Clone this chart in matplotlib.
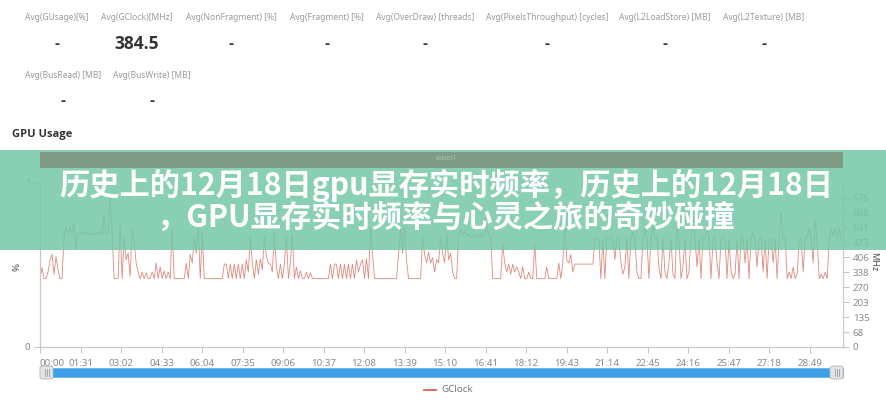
import matplotlib
matplotlib.use('Agg')
import matplotlib.pyplot as plt
from matplotlib.patches import Rectangle, FancyBboxPatch
from matplotlib.lines import Line2D
import numpy as np

W, H = 886, 400
plt.rcParams['font.family'] = ['Noto Sans', 'DejaVu Sans']

# ---------------- data ----------------
stat_labels_1 = ['Avg(GUsage)[%]', 'Avg(GClock)[MHz]', 'Avg(NonFragment) [%]', 'Avg(Fragment) [%]',
                 'Avg(OverDraw) [threads]', 'Avg(PixelsThroughput) [cycles]', 'Avg(L2LoadStore) [MB]',
                 'Avg(L2Texture) [MB]']
stat_values_1 = ['-', '384.5', '-', '-', '-', '-', '-', '-']
stat_labels_2 = ['Avg(BusRead) [MB]', 'Avg(BusWrite) [MB]']
stat_values_2 = ['-', '-']

section_title = 'GPU Usage'
band_label = 'label1'
legend_label = 'GClock'
time_labels = ['00:00', '01:31', '03:02', '04:33', '06:04', '07:35', '09:06', '10:37', '12:08', '13:39',
               '15:10', '16:41', '18:12', '19:43', '21:14', '22:45', '24:16', '25:47', '27:18', '28:49']
mhz_ticks = [0, 68, 135, 203, 270, 338, 406, 473, 541, 608, 676]
usage_ticks = [0, 1]
sample_interval = 4.5  # seconds

gclock = [
    310, 360, 310, 310, 340, 395, 420, 330, 410, 350, 310, 310, 500, 550, 515, 540, 515, 565, 440, 515,
    515, 510, 520, 515, 515, 510, 520, 505, 520, 510, 525, 510, 600, 515, 520, 680, 515, 310, 310, 310,
    560, 310, 500, 395, 426, 320, 540, 480, 381, 340, 310, 340, 310, 336, 310, 310, 340, 310, 381, 310,
    363, 310, 345, 310, 340, 310, 540, 310, 310, 310, 310, 310, 310, 381, 310, 420, 381, 500, 426, 540,
    310, 520, 310, 310, 310, 310, 310, 310, 310, 310, 310, 310, 376, 376, 310, 376, 310, 376, 310, 376,
    310, 376, 310, 395, 340, 500, 381, 310, 395, 330, 400, 350, 500, 410, 381, 376, 340, 520, 363, 310,
    376, 310, 376, 500, 310, 381, 510, 310, 363, 310, 345, 310, 310, 340, 310, 336, 310, 310, 310, 310,
    310, 310, 310, 310, 310, 376, 310, 376, 376, 310, 376, 310, 376, 310, 376, 310, 376, 310, 395, 340,
    376, 395, 310, 400, 310, 540, 426, 310, 310, 310, 310, 310, 310, 310, 310, 310, 310, 310, 310, 420,
    540, 426, 540, 395, 310, 310, 310, 310, 310, 310, 310, 500, 420, 381, 430, 381, 405, 340, 395, 381,
    500, 426, 381, 510, 395, 426, 340, 310, 310, 510, 535, 505, 525, 500, 510, 495, 510, 495, 510, 495,
    510, 500, 510, 560, 505, 500, 310, 310, 310, 310, 310, 470, 381, 340, 376, 330, 376, 340, 363, 340,
    310, 363, 310, 310, 340, 310, 310, 470, 310, 310, 310, 310, 310, 363, 310, 310, 310, 310, 310, 381,
    310, 381, 560, 395, 381, 420, 340, 376, 376, 376, 376, 376, 376, 376, 376, 376, 376, 490, 495, 490,
    310, 490, 310, 495, 490, 500, 490, 395, 490, 500, 381, 330, 363, 490, 310, 495, 520, 490, 340, 310,
    310, 490, 540, 490, 310, 490, 560, 490, 500, 360, 310, 490, 340, 310, 381, 490, 330, 310, 560, 490,
    310, 363, 490, 310, 340, 500, 590, 490, 363, 490, 310, 495, 490, 560, 490, 310, 490, 500, 381, 310,
    490, 500, 490, 310, 490, 340, 310, 330, 490, 310, 500, 490, 381, 490, 310, 490, 520, 490, 363, 490,
    500, 340, 490, 310, 490, 495, 381, 490, 310, 490, 610, 490, 500, 310, 340, 310, 363, 310, 330, 490,
    490, 340, 490, 500, 540, 490, 381, 576, 490, 310, 330, 310, 340, 310, 490, 540, 500, 540, 490, 540,
    490,
]

title_lines = ['历史上的12月18日gpu显存实时频率，历史上的12月18日',
               '，GPU显存实时频率与心灵之旅的奇妙碰撞']

# ---------------- helpers ----------------
def fx(x):
    return x / W

def fy(y):
    return 1 - y / H

def to_sec(s):
    m, sec = s.split(':')
    return int(m) * 60 + int(sec)

fig = plt.figure(figsize=(W / 100, H / 100), dpi=100)
fig.patch.set_facecolor('white')

bold_family = ['Open Sans', 'DejaVu Sans']

# ---------------- header stats ----------------
label_color = '#9a9a9a'
value_color = '#333333'
row1_x = [25, 101, 186, 290, 376, 486, 619, 723]
row2_x = [25, 113]
fig.canvas.draw()
renderer = fig.canvas.get_renderer()

def stat_row(labels, values, xs, y_label, y_value):
    for lab, val, x in zip(labels, values, xs):
        t = fig.text(fx(x), fy(y_label), lab, fontsize=6.1, color=label_color, ha='left', va='center')
        bb = t.get_window_extent(renderer)
        cx = (bb.x0 + bb.x1) / 2 / W
        if val == '-':
            fig.text(cx, fy(y_value), val, fontsize=11, fontweight='bold', family=bold_family,
                     color=value_color, ha='center', va='center')
        else:
            fig.text(cx, fy(y_value), val, fontsize=12.5, fontweight='bold', family=bold_family,
                     color=value_color, ha='center', va='center')

stat_row(stat_labels_1, stat_values_1, row1_x, 17, 44)
stat_row(stat_labels_2, stat_values_2, row2_x, 75, 101)

fig.text(fx(12), fy(134), section_title, fontsize=8, fontweight='bold', family=bold_family,
         color='#333333', ha='left', va='center')

# ---------------- chart ----------------
ax = fig.add_axes([fx(40), fy(347), (843 - 40) / W, (347 - 183) / H])
ax.set_facecolor('none')
xmax = 1804
ax.set_xlim(0, xmax)
ax.set_ylim(0, 1)
ax.set_yticks(usage_ticks)
ax.set_yticklabels([str(v) for v in usage_ticks])
tick_secs = [to_sec(s) for s in time_labels]
ax.set_xticks(tick_secs)
ax.set_xticklabels(time_labels)
xl = ax.get_xticklabels()
xl[0].set_horizontalalignment('left')

ax2 = ax.twinx()
ax2.set_ylim(0, 743.6)
ax2.set_yticks(mhz_ticks)
ax2.set_yticklabels([str(v) for v in mhz_ticks])
t = np.arange(len(gclock)) * sample_interval
ax2.plot(t, gclock, color='#dc7466', lw=0.6, alpha=0.85)

axis_color = '#c8c8c8'
for a in (ax, ax2):
    a.spines['top'].set_visible(False)
    for side in ('left', 'right', 'bottom'):
        a.spines[side].set_color(axis_color)
        a.spines[side].set_linewidth(0.8)
    a.tick_params(axis='both', direction='out', length=4, width=0.8, color=axis_color,
                  labelsize=7, labelcolor='#8a8a8a', pad=3)
ax.tick_params(axis='x', pad=5)

fig.text(fx(17), fy(267), '%', fontsize=7, fontweight='bold', color='#555555', rotation=90,
         ha='center', va='center')
fig.text(fx(874), fy(262), 'MHz', fontsize=6.5, fontweight='bold', color='#555555', rotation=270,
         ha='center', va='center')

# ---------------- slider ----------------
fig.patches.append(Rectangle((fx(40), fy(377)), (843 - 40) / W, 9 / H, transform=fig.transFigure,
                             facecolor='#3d9fe6', edgecolor='#5fb2ee', lw=0.5, zorder=2))
for x0 in (40, 830):
    fig.patches.append(FancyBboxPatch((fx(x0), fy(379)), 13 / W, 13 / H,
                                      boxstyle='round,pad=0,rounding_size=0.004',
                                      transform=fig.transFigure, facecolor='#e4e4e4',
                                      edgecolor='#b5b5b5', lw=0.6, zorder=3))
    for dx in (4.5, 6.5, 8.5):
        fig.lines.append(Line2D([fx(x0 + dx)] * 2, [fy(376), fy(369)], transform=fig.transFigure,
                                color='#9a9a9a', lw=0.6, zorder=4))

# ---------------- legend ----------------
fig.lines.append(Line2D([fx(424), fx(436)], [fy(390), fy(390)], transform=fig.transFigure,
                        color='#e06a58', lw=1.4))
fig.text(fx(441), fy(390), legend_label, fontsize=7, color='#7a7a7a', ha='left', va='center')

# ---------------- overlay banner ----------------
fig.patches.append(Rectangle((0, fy(250)), 1, 100 / H, transform=fig.transFigure,
                             facecolor='#74c7a7', alpha=0.86, lw=0, zorder=10))
fig.patches.append(Rectangle((fx(40), fy(168)), (843 - 40) / W, 16 / H, transform=fig.transFigure,
                             facecolor='#7e9c85', lw=0, zorder=11))
fig.text(fx(446), fy(159), band_label, fontsize=5.5, color='#a6c2ad', ha='center', va='center',
         zorder=12)
fig.text(fx(446), fy(185), title_lines[0], fontsize=21.8, fontweight='bold', color='white',
         family=['Noto Sans CJK SC', 'DejaVu Sans'], ha='center', va='center', zorder=13)
fig.text(fx(445), fy(218), title_lines[1], fontsize=21.8, fontweight='bold', color='white',
         family=['Noto Sans CJK SC', 'DejaVu Sans'], ha='center', va='center', zorder=13)

fig.savefig('out.png', dpi=100)
